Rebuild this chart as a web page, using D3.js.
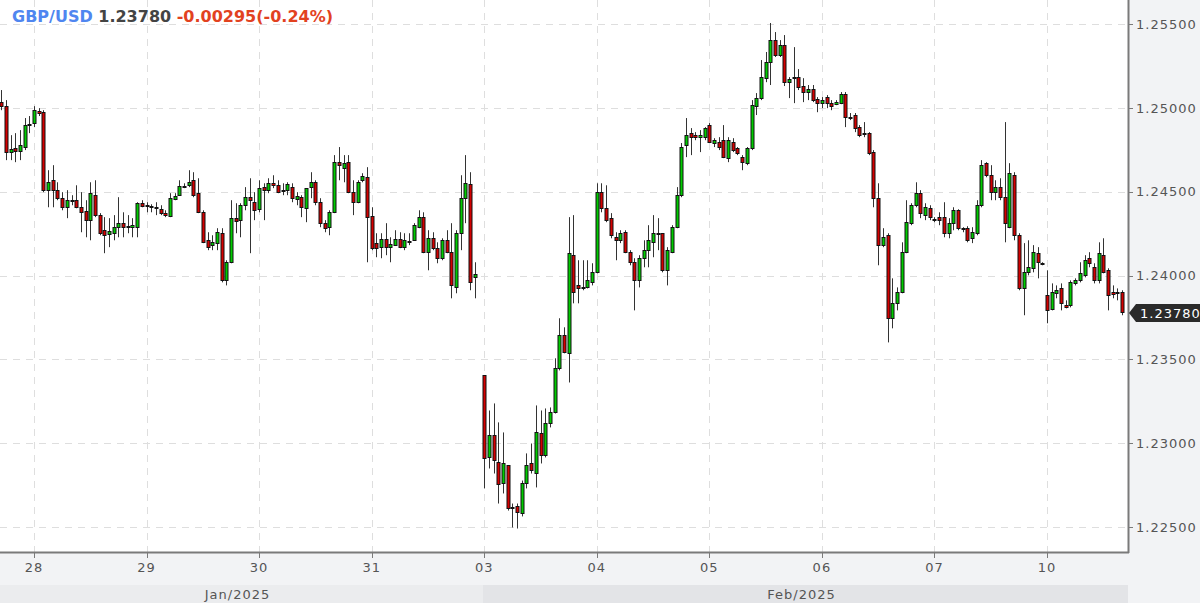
<!DOCTYPE html>
<html>
<head>
<meta charset="utf-8">
<script src="https://cdn.jsdelivr.net/npm/d3@7"></script>
<style>
  body { margin: 0; background: #f2f3f5; }
  svg { display: block; }
  text { font-family: "DejaVu Sans", sans-serif; }
</style>
</head>
<body>
<div id="chart"></div>
<script>
// GBP/USD hourly candles, 27 Jan - 10 Feb 2025
// one slot = one hour, slot 0 = 28 Jan 00:00, weekend removed

var dayLabels = ["28", "29", "30", "31", "03", "04", "05", "06", "07", "10"];
var daySlots = [0, 24, 48, 72, 96, 120, 144, 168, 192, 216];
var monthLabels = ["Jan/2025", "Feb/2025"];
var monthSlots = [-8, 96];
var priceTicks = [1.225, 1.230, 1.235, 1.240, 1.245, 1.250, 1.255];
var symbol = "GBP/USD";
var lastClose = 1.23780;
var change = -0.00295;
var changePct = -0.24;

// [open, high, low, close]
var week1Start = -7;
var week1 = [
  [1.25034, 1.25106, 1.24986, 1.25010],
  [1.25010, 1.25046, 1.24688, 1.24736],
  [1.24736, 1.24837, 1.24688, 1.24754],
  [1.24760, 1.24849, 1.24676, 1.24742],
  [1.24742, 1.24867, 1.24688, 1.24778],
  [1.24766, 1.24939, 1.24748, 1.24897],
  [1.24897, 1.24951, 1.24849, 1.24903],
  [1.24909, 1.25010, 1.24885, 1.24986],
  [1.24980, 1.24998, 1.24951, 1.24968],
  [1.24974, 1.24986, 1.24497, 1.24509],
  [1.24509, 1.24628, 1.24407, 1.24556],
  [1.24568, 1.24658, 1.24407, 1.24509],
  [1.24509, 1.24556, 1.24449, 1.24461],
  [1.24461, 1.24497, 1.24389, 1.24407],
  [1.24407, 1.24509, 1.24342, 1.24449],
  [1.24449, 1.24479, 1.24419, 1.24443],
  [1.24449, 1.24538, 1.24401, 1.24407],
  [1.24407, 1.24497, 1.24258, 1.24377],
  [1.24383, 1.24449, 1.24228, 1.24330],
  [1.24330, 1.24556, 1.24210, 1.24491],
  [1.24479, 1.24568, 1.24348, 1.24360],
  [1.24360, 1.24372, 1.24240, 1.24252],
  [1.24270, 1.24348, 1.24133, 1.24240],
  [1.24246, 1.24342, 1.24169, 1.24264],
  [1.24252, 1.24360, 1.24210, 1.24288],
  [1.24288, 1.24467, 1.24228, 1.24312],
  [1.24312, 1.24377, 1.24228, 1.24288],
  [1.24294, 1.24360, 1.24252, 1.24288],
  [1.24288, 1.24342, 1.24228, 1.24300],
  [1.24288, 1.24437, 1.24228, 1.24431],
  [1.24431, 1.24449, 1.24407, 1.24413],
  [1.24419, 1.24437, 1.24377, 1.24413],
  [1.24407, 1.24425, 1.24377, 1.24413],
  [1.24407, 1.24437, 1.24360, 1.24401],
  [1.24395, 1.24419, 1.24360, 1.24372],
  [1.24372, 1.24389, 1.24348, 1.24360],
  [1.24354, 1.24491, 1.24348, 1.24461],
  [1.24455, 1.24491, 1.24449, 1.24473],
  [1.24479, 1.24568, 1.24479, 1.24532],
  [1.24527, 1.24550, 1.24521, 1.24532],
  [1.24538, 1.24628, 1.24527, 1.24556],
  [1.24568, 1.24616, 1.24467, 1.24479],
  [1.24491, 1.24580, 1.24372, 1.24377],
  [1.24377, 1.24389, 1.24193, 1.24198],
  [1.24210, 1.24258, 1.24151, 1.24169],
  [1.24181, 1.24240, 1.24151, 1.24198],
  [1.24193, 1.24282, 1.24151, 1.24258],
  [1.24252, 1.24282, 1.23959, 1.23971],
  [1.23971, 1.24091, 1.23941, 1.24079],
  [1.24079, 1.24449, 1.24073, 1.24342],
  [1.24342, 1.24431, 1.24252, 1.24324],
  [1.24330, 1.24431, 1.24228, 1.24419],
  [1.24419, 1.24527, 1.24389, 1.24467],
  [1.24467, 1.24580, 1.24133, 1.24449],
  [1.24437, 1.24497, 1.24330, 1.24389],
  [1.24395, 1.24568, 1.24377, 1.24521],
  [1.24527, 1.24550, 1.24330, 1.24509],
  [1.24509, 1.24580, 1.24491, 1.24550],
  [1.24550, 1.24598, 1.24521, 1.24538],
  [1.24538, 1.24568, 1.24491, 1.24497],
  [1.24509, 1.24550, 1.24479, 1.24503],
  [1.24509, 1.24556, 1.24479, 1.24544],
  [1.24527, 1.24550, 1.24437, 1.24461],
  [1.24455, 1.24497, 1.24419, 1.24473],
  [1.24467, 1.24479, 1.24348, 1.24407],
  [1.24401, 1.24521, 1.24318, 1.24521],
  [1.24527, 1.24616, 1.24461, 1.24556],
  [1.24556, 1.24568, 1.24419, 1.24437],
  [1.24437, 1.24461, 1.24288, 1.24312],
  [1.24312, 1.24330, 1.24258, 1.24282],
  [1.24288, 1.24389, 1.24240, 1.24377],
  [1.24377, 1.24718, 1.24372, 1.24676],
  [1.24676, 1.24766, 1.24568, 1.24658],
  [1.24640, 1.24718, 1.24556, 1.24670],
  [1.24676, 1.24718, 1.24491, 1.24497],
  [1.24497, 1.24568, 1.24360, 1.24437],
  [1.24437, 1.24568, 1.24431, 1.24556],
  [1.24568, 1.24610, 1.24556, 1.24592],
  [1.24586, 1.24646, 1.24079, 1.24348],
  [1.24354, 1.24407, 1.24151, 1.24163],
  [1.24193, 1.24252, 1.24109, 1.24163],
  [1.24169, 1.24252, 1.24103, 1.24216],
  [1.24216, 1.24312, 1.24121, 1.24169],
  [1.24169, 1.24228, 1.24079, 1.24187],
  [1.24181, 1.24270, 1.24181, 1.24216],
  [1.24216, 1.24258, 1.24163, 1.24169],
  [1.24169, 1.24252, 1.24151, 1.24210],
  [1.24198, 1.24252, 1.24181, 1.24204],
  [1.24210, 1.24312, 1.24210, 1.24300],
  [1.24288, 1.24389, 1.24282, 1.24348],
  [1.24348, 1.24377, 1.24133, 1.24139],
  [1.24139, 1.24270, 1.24031, 1.24222],
  [1.24222, 1.24258, 1.24151, 1.24163],
  [1.24163, 1.24198, 1.24073, 1.24103],
  [1.24103, 1.24222, 1.24091, 1.24210],
  [1.24210, 1.24270, 1.24133, 1.24139],
  [1.24139, 1.24312, 1.23864, 1.23941],
  [1.23929, 1.24270, 1.23894, 1.24252],
  [1.24252, 1.24598, 1.24151, 1.24461],
  [1.24461, 1.24718, 1.24312, 1.24550],
  [1.24544, 1.24616, 1.23912, 1.23959],
  [1.23989, 1.24079, 1.23864, 1.24007]
];

var week2Start = 96;
var week2 = [
  [1.23404, 1.23404, 1.22730, 1.22909],
  [1.22915, 1.23195, 1.22849, 1.23046],
  [1.23046, 1.23237, 1.22819, 1.22897],
  [1.22885, 1.23124, 1.22640, 1.22759],
  [1.22765, 1.23064, 1.22700, 1.22879],
  [1.22867, 1.22867, 1.22598, 1.22616],
  [1.22616, 1.22640, 1.22497, 1.22622],
  [1.22628, 1.22640, 1.22491, 1.22592],
  [1.22586, 1.22777, 1.22563, 1.22765],
  [1.22765, 1.22939, 1.22730, 1.22867],
  [1.22879, 1.22998, 1.22819, 1.22837],
  [1.22825, 1.23225, 1.22736, 1.23064],
  [1.23058, 1.23195, 1.22879, 1.22927],
  [1.22927, 1.23207, 1.22915, 1.23118],
  [1.23118, 1.23213, 1.23094, 1.23183],
  [1.23183, 1.23506, 1.23177, 1.23446],
  [1.23446, 1.23745, 1.23434, 1.23643],
  [1.23643, 1.23691, 1.23536, 1.23542],
  [1.23536, 1.24348, 1.23362, 1.24133],
  [1.24121, 1.24360, 1.23834, 1.23900],
  [1.23941, 1.24091, 1.23834, 1.23923],
  [1.23923, 1.24091, 1.23912, 1.23929],
  [1.23929, 1.24091, 1.23923, 1.23971],
  [1.23959, 1.24073, 1.23941, 1.24019],
  [1.24019, 1.24550, 1.24013, 1.24497],
  [1.24497, 1.24550, 1.24377, 1.24401],
  [1.24401, 1.24538, 1.24318, 1.24330],
  [1.24342, 1.24372, 1.24222, 1.24240],
  [1.24228, 1.24258, 1.24091, 1.24210],
  [1.24210, 1.24270, 1.24193, 1.24252],
  [1.24258, 1.24270, 1.24133, 1.24139],
  [1.24139, 1.24151, 1.24061, 1.24079],
  [1.24079, 1.24103, 1.23792, 1.23971],
  [1.23971, 1.24121, 1.23929, 1.24103],
  [1.24103, 1.24210, 1.24049, 1.24151],
  [1.24151, 1.24300, 1.24049, 1.24210],
  [1.24198, 1.24360, 1.24109, 1.24252],
  [1.24252, 1.24342, 1.24151, 1.24246],
  [1.24252, 1.24252, 1.24019, 1.24031],
  [1.24031, 1.24169, 1.23941, 1.24151],
  [1.24139, 1.24300, 1.24133, 1.24288],
  [1.24288, 1.24527, 1.24282, 1.24479],
  [1.24479, 1.24790, 1.24467, 1.24766],
  [1.24778, 1.24939, 1.24706, 1.24837],
  [1.24849, 1.24879, 1.24718, 1.24825],
  [1.24837, 1.24855, 1.24807, 1.24825],
  [1.24825, 1.24867, 1.24736, 1.24837],
  [1.24825, 1.24885, 1.24807, 1.24879],
  [1.24897, 1.24909, 1.24790, 1.24796],
  [1.24790, 1.24819, 1.24766, 1.24807],
  [1.24796, 1.24825, 1.24748, 1.24766],
  [1.24807, 1.24897, 1.24700, 1.24706],
  [1.24700, 1.24825, 1.24676, 1.24807],
  [1.24796, 1.24819, 1.24736, 1.24748],
  [1.24760, 1.24766, 1.24718, 1.24730],
  [1.24706, 1.24718, 1.24628, 1.24676],
  [1.24670, 1.24766, 1.24658, 1.24760],
  [1.24760, 1.25046, 1.24748, 1.25016],
  [1.25010, 1.25088, 1.24957, 1.25058],
  [1.25058, 1.25285, 1.25046, 1.25183],
  [1.25177, 1.25333, 1.25153, 1.25273],
  [1.25273, 1.25506, 1.25136, 1.25404],
  [1.25404, 1.25452, 1.25303, 1.25315],
  [1.25315, 1.25404, 1.25303, 1.25374],
  [1.25374, 1.25434, 1.25130, 1.25153],
  [1.25153, 1.25183, 1.25058, 1.25171],
  [1.25177, 1.25362, 1.25028, 1.25183],
  [1.25183, 1.25231, 1.25106, 1.25124],
  [1.25130, 1.25177, 1.25034, 1.25094],
  [1.25094, 1.25136, 1.25046, 1.25112],
  [1.25112, 1.25136, 1.25034, 1.25046],
  [1.25052, 1.25064, 1.24974, 1.25028],
  [1.25028, 1.25064, 1.24998, 1.25046],
  [1.25064, 1.25076, 1.24998, 1.25028],
  [1.25028, 1.25046, 1.24986, 1.25010],
  [1.25022, 1.25046, 1.25016, 1.25034],
  [1.25028, 1.25094, 1.25022, 1.25082],
  [1.25082, 1.25094, 1.24885, 1.24945],
  [1.24939, 1.24969, 1.24927, 1.24945],
  [1.24957, 1.24969, 1.24855, 1.24879],
  [1.24885, 1.24897, 1.24825, 1.24837],
  [1.24843, 1.24915, 1.24825, 1.24849],
  [1.24849, 1.24855, 1.24718, 1.24730],
  [1.24736, 1.24748, 1.24407, 1.24461],
  [1.24461, 1.24550, 1.24061, 1.24181],
  [1.24181, 1.24282, 1.24169, 1.24228],
  [1.24240, 1.24252, 1.23601, 1.23745],
  [1.23745, 1.23983, 1.23685, 1.23834],
  [1.23834, 1.23929, 1.23792, 1.23900],
  [1.23900, 1.24198, 1.23894, 1.24139],
  [1.24139, 1.24449, 1.24133, 1.24318],
  [1.24312, 1.24431, 1.24300, 1.24419],
  [1.24419, 1.24556, 1.24407, 1.24491],
  [1.24491, 1.24509, 1.24342, 1.24372],
  [1.24360, 1.24431, 1.24330, 1.24407],
  [1.24401, 1.24419, 1.24330, 1.24348],
  [1.24336, 1.24348, 1.24318, 1.24330],
  [1.24348, 1.24377, 1.24300, 1.24330],
  [1.24348, 1.24437, 1.24228, 1.24252],
  [1.24252, 1.24342, 1.24222, 1.24312],
  [1.24312, 1.24407, 1.24270, 1.24389],
  [1.24389, 1.24395, 1.24270, 1.24282],
  [1.24282, 1.24288, 1.24258, 1.24276],
  [1.24282, 1.24294, 1.24198, 1.24210],
  [1.24222, 1.24288, 1.24193, 1.24258],
  [1.24252, 1.24449, 1.24240, 1.24419],
  [1.24419, 1.24688, 1.24407, 1.24658],
  [1.24670, 1.24676, 1.24586, 1.24598],
  [1.24598, 1.24658, 1.24449, 1.24497],
  [1.24497, 1.24568, 1.24449, 1.24527],
  [1.24527, 1.24580, 1.24449, 1.24467],
  [1.24467, 1.24915, 1.24198, 1.24312],
  [1.24288, 1.24670, 1.24282, 1.24610],
  [1.24598, 1.24616, 1.24210, 1.24240],
  [1.24240, 1.24252, 1.23912, 1.23923],
  [1.23923, 1.24193, 1.23763, 1.24019],
  [1.24019, 1.24210, 1.24001, 1.24049],
  [1.24043, 1.24181, 1.24019, 1.24139],
  [1.24133, 1.24169, 1.23983, 1.24079],
  [1.24073, 1.24079, 1.24061, 1.24067],
  [1.23882, 1.24031, 1.23715, 1.23793],
  [1.23798, 1.23953, 1.23792, 1.23900],
  [1.23894, 1.23941, 1.23864, 1.23912],
  [1.23923, 1.23953, 1.23792, 1.23834],
  [1.23822, 1.23852, 1.23804, 1.23810],
  [1.23822, 1.23971, 1.23810, 1.23959],
  [1.23953, 1.23983, 1.23941, 1.23971],
  [1.23971, 1.24079, 1.23959, 1.24013],
  [1.24001, 1.24121, 1.23989, 1.24091],
  [1.24103, 1.24139, 1.24049, 1.24073],
  [1.24049, 1.24073, 1.23953, 1.23971],
  [1.23971, 1.24198, 1.23953, 1.24133],
  [1.24121, 1.24222, 1.24013, 1.24019],
  [1.24031, 1.24043, 1.23792, 1.23882],
  [1.23900, 1.23941, 1.23864, 1.23888],
  [1.23894, 1.23923, 1.23852, 1.23900],
  [1.23900, 1.23912, 1.23763, 1.23780]
];

var width = 1200, height = 603;
var plotW = 1128, plotH = 552;
var upColor = "#00cc00", downColor = "#d40000";

// plain ascii minus, as on the original quote line
var fmt = d3.formatLocale({decimal: ".", thousands: ",", grouping: [3], currency: ["", ""], minus: "-"});
var fmt5 = fmt.format(".5f");
var fmt2 = fmt.format(".2f");

function toCandles(rows, start) {
  return rows.map(function(r, i) {
    return {slot: start + i, o: r[0], h: r[1], l: r[2], c: r[3]};
  });
}
var candles = toCandles(week1, week1Start).concat(toCandles(week2, week2Start));

var x = d3.scaleLinear().domain([0, 216]).range([34, 1047]);
var y = d3.scaleLinear().domain([1.225, 1.255]).range([527, 24]);

var svg = d3.select("#chart")
    .append("svg")
    .attr("width", width)
    .attr("height", height);

svg.append("rect")
    .attr("width", width)
    .attr("height", height)
    .attr("fill", "#f2f3f5");

svg.append("rect")
    .attr("width", plotW)
    .attr("height", plotH)
    .attr("fill", "#ffffff");

// month band under the day labels
var bandY = 585;
var monthEdges = monthSlots.map(function(s) { return Math.max(0, Math.round(x(s)) - 1); });
monthEdges.push(plotW);
svg.append("g").selectAll("rect")
    .data(monthLabels)
    .enter()
    .append("rect")
    .attr("x", function(d, i) { return monthEdges[i]; })
    .attr("y", bandY)
    .attr("width", function(d, i) { return monthEdges[i + 1] - monthEdges[i]; })
    .attr("height", height - bandY)
    .attr("fill", function(d, i) { return i % 2 ? "#e3e4e7" : "#ebecee"; });

svg.append("g").selectAll("text")
    .data(monthLabels)
    .enter()
    .append("text")
    .attr("x", function(d, i) { return (monthEdges[i] + monthEdges[i + 1]) / 2 - 4; })
    .attr("y", 599)
    .attr("text-anchor", "middle")
    .style("font-size", "13px")
    .style("letter-spacing", "1px")
    .attr("fill", "#555")
    .text(function(d) { return d; });

// grid
var grid = svg.append("g").attr("stroke", "#dedede").attr("stroke-dasharray", "7,6");
grid.selectAll("line.h")
    .data(priceTicks)
    .enter()
    .append("line")
    .attr("x1", 0).attr("x2", plotW)
    .attr("y1", function(d) { return Math.round(y(d)) + 0.5; })
    .attr("y2", function(d) { return Math.round(y(d)) + 0.5; });
grid.selectAll("line.v")
    .data(daySlots)
    .enter()
    .append("line")
    .attr("y1", 0).attr("y2", plotH)
    .attr("x1", function(d) { return Math.round(x(d)) + 0.5; })
    .attr("x2", function(d) { return Math.round(x(d)) + 0.5; });

// candles
svg.append("clipPath").attr("id", "plotClip")
    .append("rect").attr("width", plotW - 1).attr("height", plotH);

var cg = svg.append("g").attr("clip-path", "url(#plotClip)");

cg.selectAll("line.wick")
    .data(candles)
    .enter()
    .append("line")
    .attr("class", "wick")
    .attr("x1", function(d) { return Math.round(x(d.slot)) + 0.5; })
    .attr("x2", function(d) { return Math.round(x(d.slot)) + 0.5; })
    .attr("y1", function(d) { return y(d.h); })
    .attr("y2", function(d) { return y(d.l); })
    .attr("stroke", "#333")
    .attr("stroke-width", 1);

cg.selectAll("rect.body")
    .data(candles)
    .enter()
    .append("rect")
    .attr("class", "body")
    .attr("x", function(d) { return Math.round(x(d.slot)) - 1; })
    .attr("width", 3)
    .attr("y", function(d) { return Math.round(y(Math.max(d.o, d.c))) + 0.5; })
    .attr("height", function(d) {
      return Math.max(1, Math.round(y(Math.min(d.o, d.c))) - Math.round(y(Math.max(d.o, d.c))));
    })
    .attr("fill", function(d) { return d.c >= d.o ? upColor : downColor; })
    .attr("stroke", "#111")
    .attr("stroke-width", 1);

// axes
var axisColor = "#7a7a7a";
svg.append("line")
    .attr("x1", plotW + 0.5).attr("x2", plotW + 0.5)
    .attr("y1", 0).attr("y2", plotH + 1)
    .attr("stroke", axisColor).attr("stroke-width", 2);
svg.append("line")
    .attr("x1", 0).attr("x2", plotW + 1)
    .attr("y1", plotH + 0.5).attr("y2", plotH + 0.5)
    .attr("stroke", axisColor).attr("stroke-width", 2);

var yAxis = svg.append("g");
yAxis.selectAll("line")
    .data(priceTicks)
    .enter()
    .append("line")
    .attr("x1", plotW).attr("x2", plotW + 5)
    .attr("y1", function(d) { return Math.round(y(d)) + 0.5; })
    .attr("y2", function(d) { return Math.round(y(d)) + 0.5; })
    .attr("stroke", axisColor);
yAxis.selectAll("text")
    .data(priceTicks)
    .enter()
    .append("text")
    .attr("x", plotW + 8)
    .attr("y", function(d) { return y(d); })
    .attr("dy", "0.36em")
    .style("font-size", "13px")
    .style("letter-spacing", "1px")
    .attr("fill", "#555")
    .text(fmt5);

var xAxis = svg.append("g");
xAxis.selectAll("line")
    .data(daySlots)
    .enter()
    .append("line")
    .attr("x1", function(d) { return Math.round(x(d)) + 0.5; })
    .attr("x2", function(d) { return Math.round(x(d)) + 0.5; })
    .attr("y1", plotH).attr("y2", plotH + 6)
    .attr("stroke", axisColor);
xAxis.selectAll("text")
    .data(daySlots)
    .enter()
    .append("text")
    .attr("x", function(d) { return x(d); })
    .attr("y", 567)
    .attr("dy", "0.36em")
    .attr("text-anchor", "middle")
    .style("font-size", "13px")
    .style("letter-spacing", "1px")
    .attr("fill", "#555")
    .text(function(d, i) { return dayLabels[i]; });

// last price tag
var ty = Math.round(y(lastClose)) + 1;
svg.append("path")
    .attr("d", "M" + (plotW + 1) + "," + ty +
               "L" + (plotW + 8) + "," + (ty - 9) +
               "H" + width + "V" + (ty + 9) +
               "H" + (plotW + 8) + "Z")
    .attr("fill", "#2a2a2a");
svg.append("text")
    .attr("x", plotW + 12)
    .attr("y", ty)
    .attr("dy", "0.36em")
    .style("font-size", "13px")
    .style("letter-spacing", "1px")
    .attr("fill", "#ffffff")
    .text(fmt5(lastClose));

// title
var title = svg.append("text")
    .attr("x", 12)
    .attr("y", 22)
    .style("font-size", "16px")
    .style("font-weight", "bold");
title.append("tspan").attr("fill", "#4f86f0").text(symbol + " ");
title.append("tspan").attr("fill", "#444").text(fmt5(lastClose) + " ");
title.append("tspan").attr("fill", "#e2421f")
    .text(fmt5(change) + "(" + fmt2(changePct) + "%)");
</script>
</body>
</html>
